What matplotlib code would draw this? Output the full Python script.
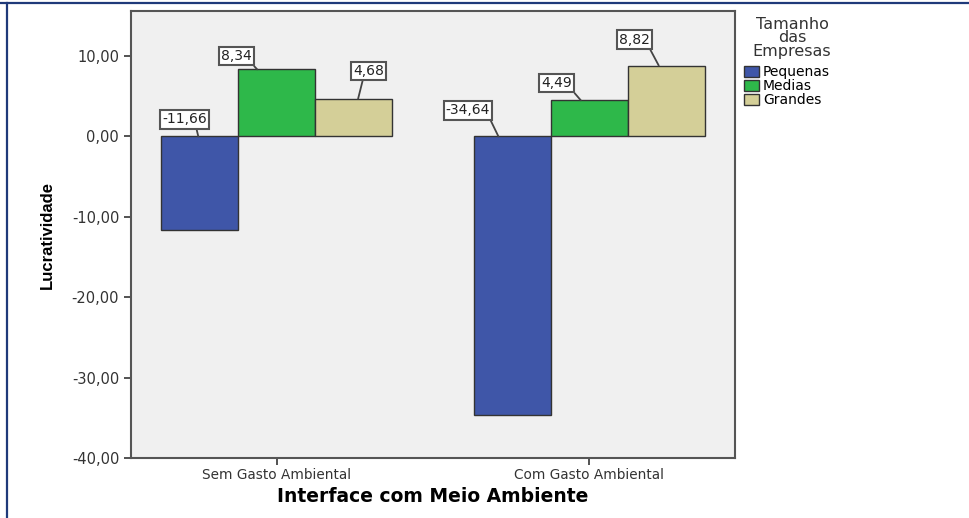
import matplotlib
matplotlib.use('Agg')
import matplotlib.pyplot as plt
import matplotlib.transforms as mtransforms
from matplotlib.lines import Line2D
import numpy as np

# Lucratividade media por interface com o meio ambiente e tamanho da empresa
grupos = ['Sem Gasto Ambiental', 'Com Gasto Ambiental']
tamanhos = ['Pequenas', 'Medias', 'Grandes']
pequenas = [-11.66, -34.64]
medias = [8.34, 4.49]
grandes = [4.68, 8.82]
yticks = [-40, -30, -20, -10, 0, 10]

cores = ['#3F56A8', '#2EB84A', '#D4CF98']

# posicao dos rotulos em pixels a partir do centro do topo da barra:
# (dx ponto de ligacao, dx caixa, dy caixa, relpos da linha)
rotulo_pos = [
    [(-1.5, -15.5, 17, 0.76), (-19.5, -40.5, 13, 1.0), (4.5, 15, 28, 0.33)],
    [(-14, -44.5, 26, 0.98), (-8.5, -32.5, 17, 1.0), (-7.5, -31.5, 26, 0.95)],
]

fig = plt.figure(figsize=(9.69, 5.18), dpi=100)
ax = fig.add_axes([131 / 969, 1 - 458 / 518, (735 - 131) / 969, (458 - 11) / 518])
ax.set_facecolor('#F0F0F0')

x = np.arange(len(grupos))
largura = 0.246
series = [pequenas, medias, grandes]
barras = []
for i, (vals, nome, cor) in enumerate(zip(series, tamanhos, cores)):
    b = ax.bar(x + (i - 1) * largura, vals, largura, color=cor, edgecolor='#333333',
               linewidth=1.0, label=nome, zorder=2)
    barras.append(b)

# rotulos de valor em caixas com linha de ligacao
for i, b in enumerate(barras):
    for g, rect in enumerate(b):
        v = series[i][g]
        dxa, dxt, dyt, rel = rotulo_pos[g][i]
        topo = max(v, 0)
        cx = rect.get_x() + rect.get_width() / 2
        tr = mtransforms.offset_copy(ax.transData, fig=fig, x=dxa, y=0, units='dots')
        ax.annotate(f'{v:.2f}'.replace('.', ','), xy=(cx, topo), xycoords=tr,
                    xytext=(dxt - dxa, dyt), textcoords='offset pixels',
                    ha='center', va='center', fontsize=10, color='#222222',
                    bbox=dict(boxstyle='square,pad=0.15', fc='white', ec='#555555', lw=1.5),
                    arrowprops=dict(arrowstyle='-', color='#444444', lw=1.3,
                                    relpos=(rel, 0), shrinkA=0, shrinkB=0),
                    zorder=4)

ax.set_xlim(-0.466, 1.466)
ax.set_ylim(-40, 15.6)
ax.set_yticks(yticks)
ax.set_yticklabels([f'{t:.2f}'.replace('.', ',') for t in yticks], fontsize=10.5, color='#333333')
ax.set_xticks(x)
ax.set_xticklabels(grupos, fontsize=9.8, color='#333333')
ax.tick_params(axis='both', direction='out', length=5, width=1.3, color='#444444')
ax.tick_params(axis='x', pad=2)
for s in ax.spines.values():
    s.set_color('#555555')
    s.set_linewidth(1.5)

ax.set_xlabel('Interface com Meio Ambiente', fontsize=13.5, weight='bold', labelpad=4)
fig.text(47 / 969, 1 - 235 / 518, 'Lucratividade', rotation=90, ha='center', va='center',
         fontsize=12, weight='bold', family=['Liberation Sans', 'DejaVu Sans'])

# titulo da legenda separado para controlar o espacamento
fig.text(792 / 969, 1 - 38 / 518, 'Tamanho\ndas\nEmpresas', ha='center', va='center',
         multialignment='center', linespacing=0.88, fontsize=11.5, color='#333333')
leg = ax.legend(loc='upper left', bbox_to_anchor=(744 / 969, 1 - 65 / 518),
                bbox_transform=fig.transFigure, frameon=False, fontsize=10,
                handlelength=1.1, handleheight=0.85, handletextpad=0.25,
                labelspacing=0.0, borderpad=0, borderaxespad=0)
for patch in leg.get_patches():
    patch.set_edgecolor('#333333')

# moldura azul no topo e a esquerda
fig.add_artist(Line2D([0, 1], [1 - 3 / 518, 1 - 3 / 518], color='#1F3A7A', lw=1.6,
                      transform=fig.transFigure))
fig.add_artist(Line2D([7 / 969, 7 / 969], [0, 1 - 3 / 518], color='#1F3A7A', lw=1.6,
                      transform=fig.transFigure))

plt.savefig('out.png', dpi=100)
plt.close()
